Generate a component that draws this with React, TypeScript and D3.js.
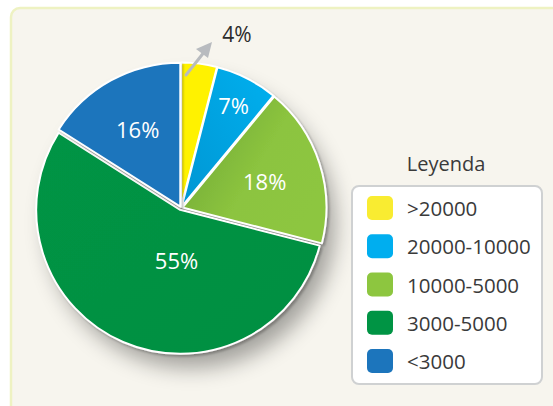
import React from "react";
import * as d3 from "d3";

const categories = [">20000", "20000-10000", "10000-5000", "3000-5000", "<3000"];
const values = [4, 7, 18, 55, 16];
const labels = ["4%", "7%", "18%", "55%", "16%"];
const legendTitle = "Leyenda";

const W = 553;
const H = 406;
const cx = 181;
const cy = 208;
const R = 144;

const sliceColors = ["#fff200", "#00aeef", "#8dc63f", "#009444", "#1c75bc"];
const swatchColors = ["#f9ec31", "#00aeef", "#8dc63f", "#009444", "#1c75bc"];
const FONT = "'Open Sans', 'Noto Sans', sans-serif";

export default function App() {
  const pie = d3.pie<number>().sort(null).value((d) => d).startAngle(0).endAngle(2 * Math.PI);
  const arcs = pie(values);
  const arc = d3.arc<d3.PieArcDatum<number>>().innerRadius(0).outerRadius(R);

  // label placement (radius, angle override in degrees)
  const labelPlace = [null, { r: 116 }, { r: 88 }, { r: 52, a: 185 }, { r: 90 }];

  const legendY = d3.scalePoint<string>().domain(categories).range([208, 361]);

  return (
    <svg width={W} height={H} style={{ position: "absolute", left: 0, top: 0 }} fontFamily={FONT}>
      <defs>
        <filter id="pieShadow" x="-30%" y="-30%" width="170%" height="170%">
          <feGaussianBlur in="SourceAlpha" stdDeviation="11" />
          <feOffset dx="10" dy="16" result="b" />
          <feComponentTransfer>
            <feFuncA type="linear" slope="0.35" />
          </feComponentTransfer>
          <feMerge>
            <feMergeNode />
          </feMerge>
        </filter>
        <filter id="sliceShadow" x="-20%" y="-20%" width="140%" height="140%">
          <feGaussianBlur in="SourceAlpha" stdDeviation="1.2" />
          <feOffset dx="1.5" dy="2" result="o" />
          <feComponentTransfer>
            <feFuncA type="linear" slope="0.25" />
          </feComponentTransfer>
          <feMerge>
            <feMergeNode />
            <feMergeNode in="SourceGraphic" />
          </feMerge>
        </filter>
        <linearGradient id="g2" x1="0" y1="0" x2="1" y2="0.6">
          <stop offset="0" stopColor="#6aa332" />
          <stop offset="0.6" stopColor="#8cc43f" />
          <stop offset="1" stopColor="#8dc63f" />
        </linearGradient>
        <linearGradient id="g1" x1="0" y1="1" x2="1" y2="0">
          <stop offset="0" stopColor="#0096d3" />
          <stop offset="1" stopColor="#00b0ef" />
        </linearGradient>
        <linearGradient id="g3" x1="0" y1="0" x2="1" y2="1">
          <stop offset="0" stopColor="#009444" />
          <stop offset="1" stopColor="#008f42" />
        </linearGradient>
      </defs>

      {/* panel */}
      <rect x={11} y={8} width={W + 20} height={H + 20} rx={9} fill="#f7f5ee" stroke="#eef2c2" strokeWidth={2.5} />

      {/* pie shadow */}
      <circle cx={cx} cy={cy} r={R} fill="#000" filter="url(#pieShadow)" />

      <g transform={`translate(${cx},${cy})`}>
        {arcs.map((a, i) => {
          const mid = (a.startAngle + a.endAngle) / 2;
          const off = i === 3 ? 2 : 1.5;
          const dx = Math.sin(mid) * off;
          const dy = -Math.cos(mid) * off;
          const fill = i === 1 ? "url(#g1)" : i === 2 ? "url(#g2)" : i === 3 ? "url(#g3)" : sliceColors[i];
          return (
            <path
              key={i}
              d={arc(a) || ""}
              transform={`translate(${dx},${dy})`}
              fill={fill}
              stroke="#ffffff"
              strokeWidth={2}
              strokeLinejoin="round"
              filter="url(#sliceShadow)"
            />
          );
        })}
        {arcs.map((a, i) => {
          const p = labelPlace[i];
          if (!p) return null;
          const ang = p.a !== undefined ? (p.a * Math.PI) / 180 : (a.startAngle + a.endAngle) / 2;
          return (
            <text
              key={i}
              x={Math.sin(ang) * p.r}
              y={-Math.cos(ang) * p.r}
              textAnchor="middle"
              dominantBaseline="central"
              fill="#ffffff"
              fontSize={22}
            >
              {labels[i]}
            </text>
          );
        })}
      </g>

      {/* 4% callout */}
      <line x1={186} y1={75} x2={205} y2={51} stroke="#b8bbbf" strokeWidth={3} strokeLinecap="round" />
      <path d="M212,42 L196,49 L208,58 Z" fill="#b8bbbf" />
      <text x={237} y={34} textAnchor="middle" dominantBaseline="central" fill="#2b2b2b" fontSize={21}>
        {labels[0]}
      </text>

      {/* legend */}
      <text x={446} y={163} textAnchor="middle" dominantBaseline="central" fill="#3a3a3a" fontSize={20}>
        {legendTitle}
      </text>
      <rect x={352} y={186} width={190} height={198} rx={7} fill="#ffffff" stroke="#cfd1d2" strokeWidth={2} />
      {categories.map((c, i) => {
        const y = legendY(c) || 0;
        return (
          <g key={c}>
            <rect x={367} y={y - 12} width={26} height={24} rx={5} fill={swatchColors[i]} />
            <text x={407} y={y} dominantBaseline="central" fill="#3a3a3a" fontSize={20.5}>
              {c}
            </text>
          </g>
        );
      })}
    </svg>
  );
}
